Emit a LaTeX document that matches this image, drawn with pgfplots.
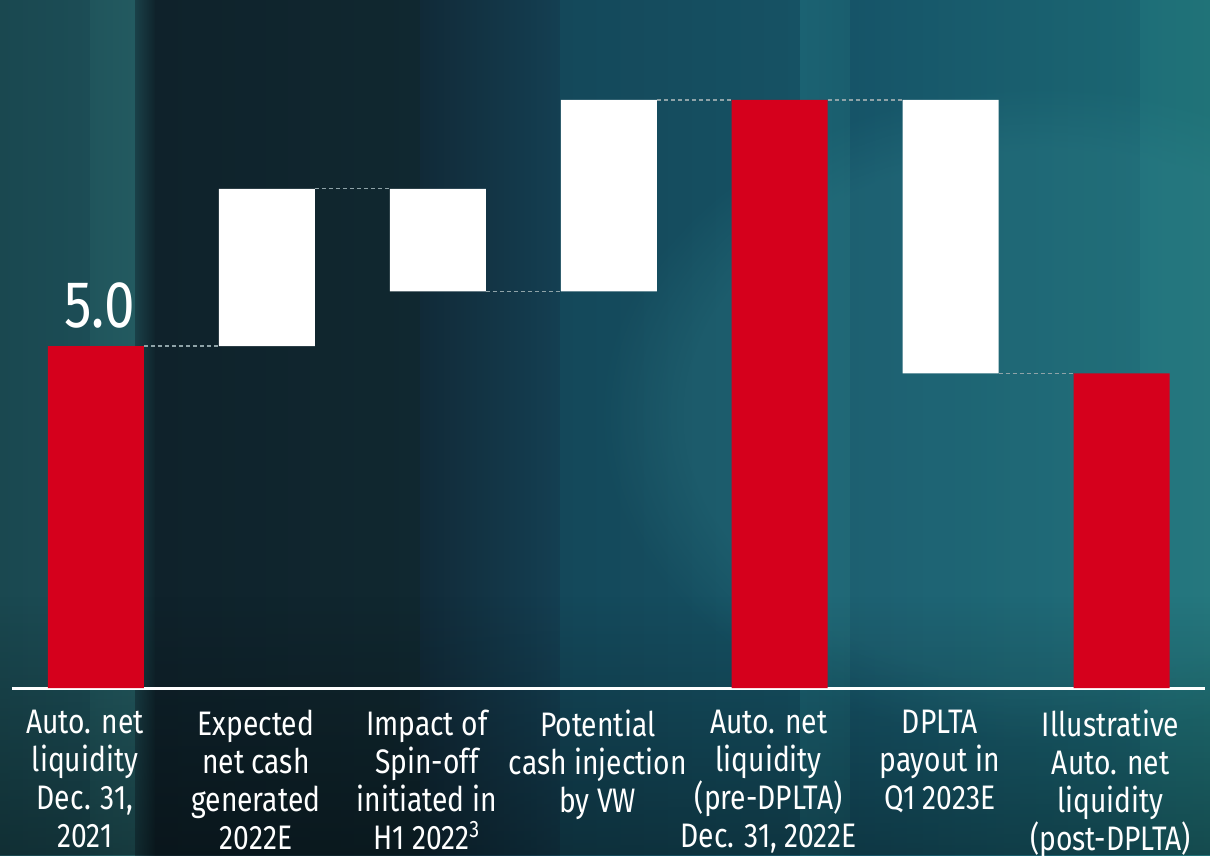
\documentclass[border=0pt]{standalone}
\usepackage{fontspec}
\setmainfont{Fira Sans}[FakeStretch=0.83]
\usepackage{pgfplots}
\pgfplotsset{compat=1.18}
\usetikzlibrary{fadings}

\definecolor{pred}{HTML}{D5001C}
\definecolor{conn}{HTML}{8FA3A8}
\definecolor{glow}{RGB}{55,140,148}

\pgfplotsset{
  wfbase/.style={
    at={(6pt,83.5pt)}, anchor=south west, scale only axis,
    width=596.5pt, height=344pt,
    xmin=-0.491, xmax=6.488, ymin=0, ymax=10.06,
    clip=false,
  },
  connector/.style={conn, line width=0.75pt, dash pattern=on 2pt off 1.5pt},
}

\begin{document}
\begin{tikzpicture}
% background, drawn in pixel units of the reference (1px = 0.5pt)
\begin{scope}[x=0.5pt, y=0.5pt]
\useasboundingbox (0,0) rectangle (1210,855);
\shade[left color={rgb,255:red,26;green,72;blue,80},  right color={rgb,255:red,28;green,77;blue,86}]  (0,0) rectangle (90,855);
\shade[left color={rgb,255:red,32;green,85;blue,92},  right color={rgb,255:red,35;green,90;blue,96}]  (90,0) rectangle (135,855);
\shade[left color={rgb,255:red,26;green,64;blue,72},  right color={rgb,255:red,15;green,36;blue,44}]  (135,0) rectangle (155,855);
\shade[left color={rgb,255:red,15;green,34;blue,43},  right color={rgb,255:red,16;green,40;blue,48}]  (155,0) rectangle (420,855);
\shade[left color={rgb,255:red,17;green,42;blue,56},  right color={rgb,255:red,20;green,63;blue,82}]  (420,0) rectangle (560,855);
\shade[left color={rgb,255:red,20;green,72;blue,90},  right color={rgb,255:red,22;green,82;blue,100}] (560,0) rectangle (800,855);
\shade[left color={rgb,255:red,27;green,98;blue,114}, right color={rgb,255:red,26;green,94;blue,110}] (800,0) rectangle (850,855);
\shade[left color={rgb,255:red,22;green,84;blue,104}, right color={rgb,255:red,27;green,102;blue,114}](850,0) rectangle (1140,855);
\shade[left color={rgb,255:red,30;green,110;blue,120},right color={rgb,255:red,32;green,115;blue,120}](1140,0) rectangle (1210,855);
% soft glow on the right, darker bottom
\fill[glow, fill opacity=0.22, path fading=circle with fuzzy edge 20 percent]
  (1050,440) ellipse (450 and 330);
\fill[black, fill opacity=0.35, path fading=north] (0,0) rectangle (1210,260);
\end{scope}

% bars
\begin{axis}[
  wfbase,
  ybar stacked, bar width=48pt,
  axis y line=none, axis x line*=bottom,
  x axis line style={white, line width=1.5pt, -},
  xtick={0,...,6}, major tick length=0pt,
  xticklabels={
    {Auto. net\\liquidity\\Dec. 31,\\2021},
    {Expected\\net cash\\generated\\2022E},
    {Impact of\\Spin-off\\initiated in\\H1 2022\textsuperscript{3}},
    {Potential\\cash injection\\by VW},
    {Auto. net\\liquidity\\(pre-DPLTA)\\Dec. 31, 2022E},
    {DPLTA\\payout in\\Q1 2023E},
    {Illustrative\\Auto. net\\liquidity\\(post-DPLTA)}},
  xticklabel style={white, align=center, font=\fontsize{17}{19}\selectfont,
    inner sep=0pt, yshift=-11pt, xshift=-5.5pt},
]
% invisible base
\addplot[fill=none, draw=none] coordinates {(0,0) (1,5.0) (2,5.8) (3,5.8) (4,0) (5,4.6) (6,0)};
% totals
\addplot[fill=pred, draw=none] coordinates {(0,5.0) (1,0) (2,0) (3,0) (4,8.6) (5,0) (6,4.6)};
% changes
\addplot[fill=white, draw=none] coordinates {(0,0) (1,2.3) (2,1.5) (3,2.8) (4,0) (5,4.0) (6,0)};
\end{axis}

% connectors and value label
\begin{axis}[wfbase, hide axis]
\addplot[connector] coordinates {(0.281,5.0) (0.719,5.0)};
\addplot[connector] coordinates {(1.281,7.3) (1.719,7.3)};
\addplot[connector] coordinates {(2.281,5.8) (2.719,5.8)};
\addplot[connector] coordinates {(3.281,8.6) (3.719,8.6)};
\addplot[connector] coordinates {(4.281,8.6) (4.719,8.6)};
\addplot[connector] coordinates {(5.281,4.6) (5.719,4.6)};
\node[white, anchor=base, font=\fontsize{33}{33}\selectfont, inner sep=0pt]
  at (axis cs:0.02,5.0) [yshift=9.5pt] {5.0};
\end{axis}
\end{tikzpicture}
\end{document}
